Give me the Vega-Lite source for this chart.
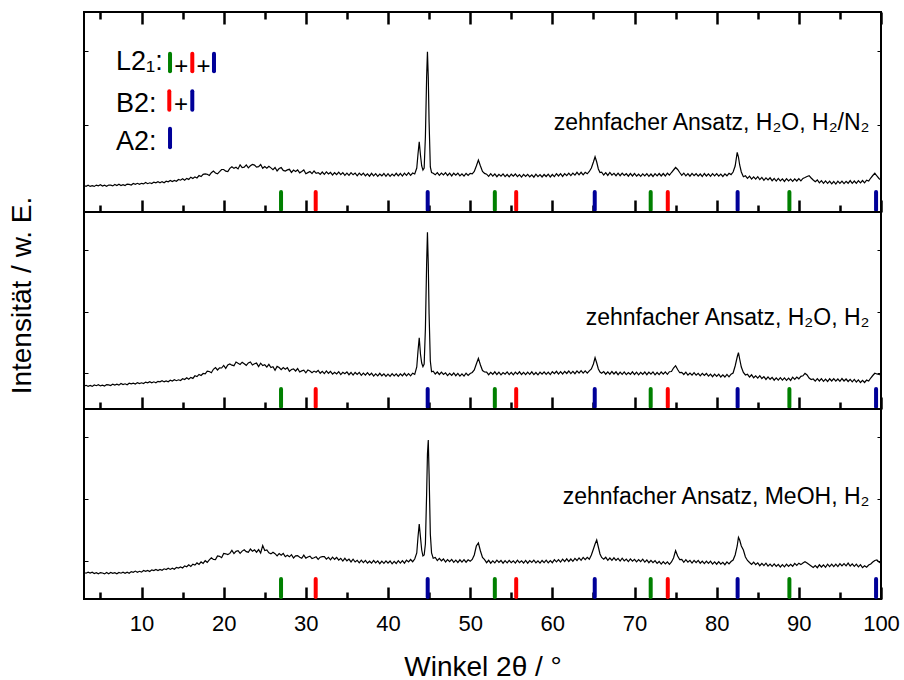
{
"$schema": "https://vega.github.io/schema/vega-lite/v6.json",
"padding": {"left": 7, "top": 9, "right": 0, "bottom": 0},
"spacing": 0,
"bounds": "flush",
"config": {
  "font": "Liberation Sans",
  "view": {"stroke": "#000000", "strokeWidth": 2},
  "axis": {"grid": false, "domain": false, "tickColor": "#000000", "labelColor": "#000000", "titleColor": "#000000", "titleFontWeight": "normal", "labelFont": "Liberation Sans", "titleFont": "Liberation Sans"},
  "text": {"font": "Liberation Sans", "color": "#000000"}
},
"datasets": {
"refs": [
{"pos":26.98,"refl":"L2₁"},{"pos":53.0,"refl":"L2₁"},{"pos":71.97,"refl":"L2₁"},{"pos":88.85,"refl":"L2₁"},
{"pos":31.2,"refl":"B2"},{"pos":55.6,"refl":"B2"},{"pos":74.05,"refl":"B2"},
{"pos":44.83,"refl":"A2"},{"pos":65.16,"refl":"A2"},{"pos":82.55,"refl":"A2"},{"pos":99.4,"refl":"A2"}
],
"xrd": [
{"x":3,"a":26.5,"b":22.7,"c":26.5},{"x":3.25,"a":25.7,"b":23.7,"c":25.8},{"x":3.5,"a":26.8,"b":22.7,"c":26.8},{"x":3.75,"a":25.6,"b":23.5,"c":25.9},
{"x":4,"a":26.4,"b":22.6,"c":26.8},{"x":4.25,"a":25.6,"b":24.1,"c":25.5},{"x":4.5,"a":26.9,"b":23.3,"c":26.3},{"x":4.75,"a":26.2,"b":24.3,"c":25.2},
{"x":5,"a":27.2,"b":23.1,"c":26.4},{"x":5.25,"a":26.0,"b":23.9,"c":26.0},{"x":5.5,"a":26.8,"b":23.0,"c":25.1},{"x":5.75,"a":25.8,"b":24.4,"c":26.5},
{"x":6,"a":27.0,"b":24.1,"c":25.3},{"x":6.25,"a":26.8,"b":23.4,"c":26.5},{"x":6.5,"a":26.1,"b":24.9,"c":25.6},{"x":6.75,"a":27.5,"b":24.0,"c":26.3},
{"x":7,"a":26.5,"b":24.8,"c":25.2},{"x":7.25,"a":27.8,"b":23.9,"c":26.5},{"x":7.5,"a":26.5,"b":25.5,"c":25.8},{"x":7.75,"a":27.4,"b":24.4,"c":26.9},
{"x":8,"a":26.4,"b":25.2,"c":25.8},{"x":8.25,"a":27.9,"b":24.2,"c":26.9},{"x":8.5,"a":27.6,"b":25.8,"c":25.8},{"x":8.75,"a":27.0,"b":25.1,"c":27.4},
{"x":9,"a":28.5,"b":25.9,"c":26.7},{"x":9.25,"a":27.7,"b":24.9,"c":27.9},{"x":9.5,"a":28.7,"b":26.4,"c":26.7},{"x":9.75,"a":27.6,"b":25.5,"c":27.7},
{"x":10,"a":28.7,"b":26.2,"c":26.9},{"x":10.25,"a":28.1,"b":25.4,"c":28.5},{"x":10.5,"a":29.5,"b":26.9,"c":27.6},{"x":10.75,"a":28.3,"b":26.2,"c":28.6},
{"x":11,"a":29.2,"b":27.3,"c":27.5},{"x":11.25,"a":28.4,"b":26.2,"c":29.1},{"x":11.5,"a":29.9,"b":27.2,"c":28.5},{"x":11.75,"a":29.2,"b":26.3,"c":29.6},
{"x":12,"a":30.3,"b":27.7,"c":28.5},{"x":12.25,"a":29.2,"b":27.2,"c":29.6},{"x":12.5,"a":30.4,"b":28.3,"c":28.7},{"x":12.75,"a":29.3,"b":27.1,"c":30.2},
{"x":13,"a":30.8,"b":28.1,"c":29.5},{"x":13.25,"a":30.2,"b":27.3,"c":30.8},{"x":13.5,"a":31.6,"b":28.8,"c":29.6},{"x":13.75,"a":30.4,"b":27.9,"c":30.8},
{"x":14,"a":31.5,"b":29.2,"c":29.8},{"x":14.25,"a":30.8,"b":28.3,"c":31.6},{"x":14.5,"a":32.5,"b":29.2,"c":31.0},{"x":14.75,"a":31.8,"b":28.5,"c":32.0},
{"x":15,"a":33.2,"b":30.3,"c":31.0},{"x":15.25,"a":31.7,"b":29.5,"c":33.1},{"x":15.5,"a":33.6,"b":31.3,"c":32.2},{"x":15.75,"a":32.6,"b":29.7,"c":34.1},
{"x":16,"a":34.8,"b":31.6,"c":32.5},{"x":16.25,"a":33.5,"b":30.6,"c":34.8},{"x":16.5,"a":35.1,"b":33.2,"c":33.9},{"x":16.75,"a":34.0,"b":32.4,"c":36.1},
{"x":17,"a":36.5,"b":34.6,"c":34.6},{"x":17.25,"a":35.4,"b":33.5,"c":37.1},{"x":17.5,"a":37.7,"b":35.5,"c":35.6},{"x":17.75,"a":38.2,"b":35.2,"c":38.3},
{"x":18,"a":37.8,"b":37.9,"c":36.7},{"x":18.25,"a":36.6,"b":37.5,"c":39.2},{"x":18.5,"a":39.3,"b":36.3,"c":41.2},{"x":18.75,"a":41.0,"b":39.7,"c":39.5},
{"x":19,"a":39.0,"b":41.4,"c":39.4},{"x":19.25,"a":38.2,"b":39.0,"c":43.0},{"x":19.5,"a":40.3,"b":41.1,"c":42.7},{"x":19.75,"a":42.5,"b":41.0,"c":41.3},
{"x":20,"a":42.5,"b":43.6,"c":45.5},{"x":20.25,"a":40.8,"b":40.6,"c":45.2},{"x":20.5,"a":40.5,"b":44.1,"c":44.4},{"x":20.75,"a":43.6,"b":45.0,"c":45.6},
{"x":21,"a":45.3,"b":43.8,"c":48.6},{"x":21.25,"a":43.6,"b":43.3,"c":45.4},{"x":21.5,"a":44.7,"b":47.0,"c":47.7},{"x":21.75,"a":43.1,"b":45.7,"c":48.3},
{"x":22,"a":47.2,"b":44.5,"c":45.7},{"x":22.25,"a":44.5,"b":46.8,"c":47.9},{"x":22.5,"a":44.9,"b":45.3,"c":49.2},{"x":22.75,"a":47.1,"b":43.7,"c":47.3},
{"x":23,"a":44.1,"b":46.1,"c":46.8},{"x":23.25,"a":46.2,"b":47.1,"c":50.0},{"x":23.5,"a":47.6,"b":44.0,"c":47.8},{"x":23.75,"a":46.9,"b":45.2,"c":49.1},
{"x":24,"a":44.9,"b":45.9,"c":46.8},{"x":24.25,"a":45.4,"b":42.4,"c":49.4},{"x":24.5,"a":47.5,"b":45.8,"c":46.0},{"x":24.75,"a":43.7,"b":43.4,"c":53.5},
{"x":25,"a":45.5,"b":44.2,"c":48.5},{"x":25.25,"a":43.8,"b":41.9,"c":49.0},{"x":25.5,"a":45.8,"b":44.6,"c":46.1},{"x":25.75,"a":44.1,"b":41.5,"c":45.1},
{"x":26,"a":42.4,"b":42.3,"c":46.8},{"x":26.25,"a":44.5,"b":38.7,"c":45.3},{"x":26.5,"a":41.0,"b":42.6,"c":43.2},{"x":26.75,"a":43.5,"b":41.5,"c":45.4},
{"x":27,"a":44.4,"b":39.3,"c":43.7},{"x":27.25,"a":41.6,"b":41.4,"c":45.6},{"x":27.5,"a":41.0,"b":39.8,"c":42.3},{"x":27.75,"a":42.1,"b":41.4,"c":43.7},
{"x":28,"a":42.7,"b":37.6,"c":42.2},{"x":28.25,"a":39.6,"b":39.5,"c":44.3},{"x":28.5,"a":41.9,"b":40.1,"c":41.0},{"x":28.75,"a":40.6,"b":38.0,"c":43.1},
{"x":29,"a":42.1,"b":40.5,"c":43.4},{"x":29.25,"a":39.2,"b":37.0,"c":41.7},{"x":29.5,"a":40.6,"b":38.1,"c":40.7},{"x":29.75,"a":42.1,"b":38.8,"c":43.9},
{"x":30,"a":38.3,"b":36.2,"c":40.9},{"x":30.25,"a":39.4,"b":39.0,"c":42.0},{"x":30.5,"a":40.5,"b":38.0,"c":42.8},{"x":30.75,"a":38.4,"b":36.3,"c":40.4},
{"x":31,"a":41.0,"b":37.9,"c":41.2},{"x":31.25,"a":38.7,"b":36.7,"c":42.2},{"x":31.5,"a":39.4,"b":38.6,"c":39.7},{"x":31.75,"a":37.7,"b":35.7,"c":41.8},
{"x":32,"a":40.0,"b":37.7,"c":42.3},{"x":32.25,"a":37.7,"b":35.4,"c":42.3},{"x":32.5,"a":40.2,"b":38.1,"c":39.9},{"x":32.75,"a":38.1,"b":35.7,"c":41.6},
{"x":33,"a":39.6,"b":37.6,"c":39.2},{"x":33.25,"a":37.0,"b":34.9,"c":41.8},{"x":33.5,"a":39.3,"b":36.8,"c":39.7},{"x":33.75,"a":37.3,"b":35.1,"c":41.7},
{"x":34,"a":39.8,"b":37.4,"c":38.8},{"x":34.25,"a":37.3,"b":34.4,"c":40.7},{"x":34.5,"a":39.4,"b":36.7,"c":38.0},{"x":34.75,"a":36.7,"b":35.2,"c":40.7},
{"x":35,"a":38.9,"b":37.2,"c":38.2},{"x":35.25,"a":36.7,"b":34.3,"c":39.9},{"x":35.5,"a":39.4,"b":36.5,"c":37.1},{"x":35.75,"a":37.2,"b":33.9,"c":39.8},
{"x":36,"a":38.9,"b":36.5,"c":37.0},{"x":36.25,"a":36.2,"b":34.5,"c":38.6},{"x":36.5,"a":38.9,"b":36.6,"c":36.2},{"x":36.75,"a":36.8,"b":33.7,"c":38.8},
{"x":37,"a":38.9,"b":35.9,"c":36.4},{"x":37.25,"a":36.2,"b":33.8,"c":38.6},{"x":37.5,"a":38.1,"b":36.3,"c":35.8},{"x":37.75,"a":35.8,"b":33.8,"c":37.8},
{"x":38,"a":38.7,"b":35.8,"c":35.8},{"x":38.25,"a":36.2,"b":32.9,"c":38.5},{"x":38.5,"a":38.3,"b":35.1,"c":36.1},{"x":38.75,"a":35.7,"b":33.1,"c":38.1},
{"x":39,"a":38.0,"b":35.7,"c":35.3},{"x":39.25,"a":36.2,"b":33.2,"c":37.8},{"x":39.5,"a":38.5,"b":35.2,"c":35.7},{"x":39.75,"a":35.7,"b":32.6,"c":38.2},
{"x":40,"a":38.3,"b":34.8,"c":35.9},{"x":40.25,"a":35.6,"b":32.7,"c":38.0},{"x":40.5,"a":38.0,"b":35.4,"c":35.2},{"x":40.75,"a":36.1,"b":33.1,"c":37.6},
{"x":41,"a":38.7,"b":35.2,"c":35.5},{"x":41.25,"a":36.1,"b":32.6,"c":38.3},{"x":41.5,"a":38.5,"b":35.1,"c":35.9},{"x":41.75,"a":35.9,"b":33.2,"c":38.3},
{"x":42,"a":38.8,"b":35.7,"c":35.8},{"x":42.25,"a":36.7,"b":33.1,"c":38.9},{"x":42.5,"a":39.3,"b":35.3,"c":37.0},{"x":42.75,"a":36.7,"b":33.2,"c":39.5},
{"x":43,"a":39.0,"b":35.8,"c":37.3},{"x":43.25,"a":38.0,"b":34.7,"c":40.0},{"x":43.5,"a":44,"b":42,"c":46},{"x":43.65,"a":58,"b":58,"c":62},
{"x":43.8,"a":70.3,"b":71.3,"c":75},{"x":43.95,"a":57,"b":55,"c":62},{"x":44.1,"a":46,"b":46,"c":49},{"x":44.25,"a":42,"b":42.3,"c":43},
{"x":44.4,"a":44,"b":45,"c":44},{"x":44.55,"a":75,"b":80,"c":55},{"x":44.7,"a":135,"b":145,"c":105},{"x":44.8,"a":160.3,"b":176.7,"c":145},
{"x":44.9,"a":135,"b":145,"c":159},{"x":45,"a":90,"b":95,"c":125},{"x":45.15,"a":45,"b":48,"c":65},{"x":45.3,"a":39.5,"b":37.3,"c":46},
{"x":45.5,"a":38.7,"b":37.8,"c":40.7},{"x":45.75,"a":37.2,"b":35.0,"c":41.5},
{"x":46,"a":39.4,"b":37.0,"c":38.4},{"x":46.25,"a":36.7,"b":34.5,"c":40.7},{"x":46.5,"a":39.0,"b":36.9,"c":38.2},{"x":46.75,"a":37.1,"b":34.5,"c":40.0},
{"x":47,"a":39.3,"b":36.2,"c":37.0},{"x":47.25,"a":36.5,"b":33.4,"c":39.4},{"x":47.5,"a":38.8,"b":35.6,"c":37.4},{"x":47.75,"a":36.1,"b":33.6,"c":39.6},
{"x":48,"a":38.8,"b":36.0,"c":36.7},{"x":48.25,"a":36.8,"b":33.3,"c":38.8},{"x":48.5,"a":38.9,"b":35.6,"c":36.5},{"x":48.75,"a":36.1,"b":32.9,"c":39.2},
{"x":49,"a":38.2,"b":35.1,"c":36.9},{"x":49.25,"a":35.9,"b":32.9,"c":39.3},{"x":49.5,"a":38.6,"b":35.8,"c":36.8},{"x":49.75,"a":36.5,"b":33.6,"c":39.2},
{"x":50,"a":38.6,"b":35.5,"c":37.7},{"x":50.25,"a":38.2,"b":36.5,"c":39.5},{"x":50.5,"a":40.5,"b":39,"c":44},{"x":50.75,"a":46,"b":45,"c":53},
{"x":51,"a":52,"b":50.7,"c":56},{"x":51.25,"a":46,"b":44,"c":48},{"x":51.5,"a":40.5,"b":38.5,"c":41.5},{"x":51.75,"a":38.6,"b":37.0,"c":39.4},
{"x":52,"a":37.8,"b":36.9,"c":36.3},{"x":52.25,"a":35.6,"b":34.3,"c":38.7},{"x":52.5,"a":38.3,"b":36.6,"c":35.8},{"x":52.75,"a":35.9,"b":34.7,"c":38.1},
{"x":53,"a":38.0,"b":37.2,"c":36.1},{"x":53.25,"a":35.3,"b":34.5,"c":38.8},{"x":53.5,"a":37.7,"b":36.8,"c":36.5},{"x":53.75,"a":35.9,"b":34.2,"c":38.5},
{"x":54,"a":38.1,"b":36.5,"c":35.8},{"x":54.25,"a":35.4,"b":34.8,"c":38.3},{"x":54.5,"a":37.5,"b":37.1,"c":36.2},{"x":54.75,"a":35.1,"b":34.4,"c":38.7},
{"x":55,"a":37.8,"b":36.7,"c":36.4},{"x":55.25,"a":35.8,"b":34.2,"c":38.2},{"x":55.5,"a":38.0,"b":36.9,"c":35.9},{"x":55.75,"a":35.3,"b":34.9,"c":38.8},
{"x":56,"a":37.4,"b":37.2,"c":36.3},{"x":56.25,"a":34.9,"b":34.5,"c":38.1},{"x":56.5,"a":37.6,"b":36.6,"c":36.0},{"x":56.75,"a":35.5,"b":34.3,"c":38.6},
{"x":57,"a":37.7,"b":36.8,"c":35.8},{"x":57.25,"a":35.2,"b":34.7,"c":38.4},{"x":57.5,"a":37.1,"b":37.2,"c":36.5},{"x":57.75,"a":34.8,"b":34.4,"c":38.8},
{"x":58,"a":37.8,"b":36.5,"c":36.1},{"x":58.25,"a":35.3,"b":34.2,"c":38.2},{"x":58.5,"a":37.4,"b":36.9,"c":35.9},{"x":58.75,"a":35.0,"b":34.8,"c":38.5},
{"x":59,"a":37.5,"b":37.1,"c":36.3},{"x":59.25,"a":35.5,"b":34.6,"c":38.8},{"x":59.5,"a":37.9,"b":36.8,"c":36.1},{"x":59.75,"a":35.0,"b":34.4,"c":38.4},
{"x":60,"a":37.5,"b":37.3,"c":36.3},{"x":60.25,"a":35.4,"b":35.3,"c":39.3},{"x":60.5,"a":38.3,"b":37.7,"c":37.2},{"x":60.75,"a":36.0,"b":34.9,"c":39.4},
{"x":61,"a":38.3,"b":37.3,"c":36.9},{"x":61.25,"a":35.6,"b":35.0,"c":39.8},{"x":61.5,"a":38.4,"b":37.6,"c":37.5},{"x":61.75,"a":36.4,"b":35.5,"c":40.2},
{"x":62,"a":38.9,"b":38.0,"c":37.5},{"x":62.25,"a":36.4,"b":35.4,"c":40.0},{"x":62.5,"a":38.9,"b":37.6,"c":37.7},{"x":62.75,"a":36.9,"b":35.3,"c":40.6},
{"x":63,"a":39.7,"b":38.1,"c":38.5},{"x":63.25,"a":37.1,"b":35.9,"c":41.1},{"x":63.5,"a":39.7,"b":38.4,"c":38.7},{"x":63.75,"a":37.1,"b":35.9,"c":41.6},
{"x":64,"a":39.7,"b":38.2,"c":39.3},{"x":64.25,"a":38.2,"b":35.9,"c":41.7},{"x":64.5,"a":40.5,"b":38.1,"c":39.8},{"x":64.75,"a":44,"b":40,"c":44},
{"x":65,"a":50,"b":45,"c":50},{"x":65.2,"a":55.3,"b":51.3,"c":55},{"x":65.4,"a":50,"b":46,"c":59},{"x":65.6,"a":43,"b":40,"c":52},
{"x":65.8,"a":39.5,"b":37.0,"c":45},{"x":66,"a":39.8,"b":35.8,"c":41.5},{"x":66.25,"a":37.0,"b":37.4,"c":39.7},{"x":66.5,"a":39.4,"b":34.8,"c":41.7},
{"x":66.75,"a":36.6,"b":37.1,"c":38.7},{"x":67,"a":39.5,"b":34.8,"c":41.0},{"x":67.25,"a":36.9,"b":37.5,"c":38.7},{"x":67.5,"a":38.7,"b":35.0,"c":41.2},
{"x":67.75,"a":36.3,"b":37.2,"c":38.7},{"x":68,"a":38.8,"b":34.3,"c":40.7},{"x":68.25,"a":36.3,"b":36.8,"c":38.0},{"x":68.5,"a":38.9,"b":34.7,"c":40.8},
{"x":68.75,"a":36.6,"b":37.1,"c":38.1},{"x":69,"a":38.3,"b":34.4,"c":39.9},{"x":69.25,"a":35.8,"b":36.5,"c":37.4},{"x":69.5,"a":38.5,"b":34.7,"c":40.1},
{"x":69.75,"a":36.0,"b":37.2,"c":37.8},{"x":70,"a":38.5,"b":34.5,"c":39.7},{"x":70.25,"a":35.8,"b":36.8,"c":37.1},{"x":70.5,"a":37.8,"b":34.2,"c":39.4},
{"x":70.75,"a":35.6,"b":36.6,"c":37.3},{"x":71,"a":38.2,"b":34.7,"c":39.8},{"x":71.25,"a":36.1,"b":37.0,"c":36.9},{"x":71.5,"a":38.4,"b":34.3,"c":39.0},
{"x":71.75,"a":35.7,"b":36.9,"c":36.3},{"x":72,"a":38.0,"b":34.8,"c":38.7},{"x":72.25,"a":35.5,"b":37.1,"c":36.3},{"x":72.5,"a":38.3,"b":34.2,"c":38.4},
{"x":72.75,"a":36.2,"b":36.5,"c":35.6},{"x":73,"a":38.5,"b":34.4,"c":37.5},{"x":73.25,"a":36.0,"b":37.0,"c":34.9},{"x":73.5,"a":38.5,"b":34.9,"c":37.4},
{"x":73.75,"a":36.0,"b":37.1,"c":35.1},{"x":74,"a":38.8,"b":34.7,"c":37.2},{"x":74.25,"a":36.8,"b":37.3,"c":34.6},{"x":74.5,"a":39.5,"b":37.5,"c":37.0},
{"x":74.75,"a":42,"b":41,"c":41},{"x":75,"a":44.5,"b":43.3,"c":48.3},{"x":75.25,"a":42.5,"b":39.5,"c":43},{"x":75.5,"a":39.5,"b":36.3,"c":39.5},
{"x":75.75,"a":36.7,"b":36.7,"c":39.7},{"x":76,"a":38.8,"b":34.5,"c":36.7},{"x":76.25,"a":36.2,"b":36.8,"c":39.3},{"x":76.5,"a":38.4,"b":33.9,"c":36.8},
{"x":76.75,"a":35.8,"b":36.0,"c":38.6},{"x":77,"a":38.6,"b":33.8,"c":36.0},{"x":77.25,"a":36.3,"b":36.4,"c":38.6},{"x":77.5,"a":38.3,"b":33.8,"c":36.4},
{"x":77.75,"a":35.8,"b":35.7,"c":38.6},{"x":78,"a":38.0,"b":33.1,"c":35.8},{"x":78.25,"a":35.5,"b":35.7,"c":37.9},{"x":78.5,"a":38.5,"b":33.5,"c":35.4},
{"x":78.75,"a":36.0,"b":35.5,"c":37.9},{"x":79,"a":38.1,"b":32.8,"c":35.7},{"x":79.25,"a":35.6,"b":34.9,"c":37.9},{"x":79.5,"a":38.3,"b":32.3,"c":34.9},
{"x":79.75,"a":36.2,"b":34.8,"c":37.1},{"x":80,"a":38.4,"b":32.6,"c":34.8},{"x":80.25,"a":35.8,"b":34.8,"c":37.4},{"x":80.5,"a":37.9,"b":32.0,"c":34.8},
{"x":80.75,"a":35.5,"b":34.2,"c":36.7},{"x":81,"a":38.2,"b":32.0,"c":34.3},{"x":81.25,"a":36.2,"b":34.6,"c":37.1},{"x":81.5,"a":38.7,"b":32.1,"c":35.1},
{"x":81.75,"a":37.4,"b":34.8,"c":37.5},{"x":82,"a":40,"b":36,"c":39},{"x":82.25,"a":46,"b":43,"c":44},{"x":82.5,"a":59.7,"b":52,"c":53},
{"x":82.65,"a":55,"b":56.3,"c":61.7},{"x":82.8,"a":47,"b":50,"c":59},{"x":83,"a":40,"b":42,"c":53},{"x":83.25,"a":35.3,"b":36.5,"c":49},
{"x":83.5,"a":36.2,"b":34.0,"c":42},{"x":83.75,"a":33.6,"b":34.7,"c":38.5},
{"x":84,"a":35.8,"b":32.0,"c":36.5},{"x":84.25,"a":32.9,"b":34.2,"c":34.6},{"x":84.5,"a":35.2,"b":31.2,"c":36.9},{"x":84.75,"a":32.9,"b":33.1,"c":34.3},
{"x":85,"a":35.3,"b":30.8,"c":36.2},{"x":85.25,"a":32.4,"b":33.3,"c":33.3},{"x":85.5,"a":34.6,"b":30.5,"c":35.7},{"x":85.75,"a":31.7,"b":32.4,"c":33.4},
{"x":86,"a":34.1,"b":29.6,"c":35.8},{"x":86.25,"a":32.0,"b":32.1,"c":32.9},{"x":86.5,"a":34.2,"b":29.7,"c":34.9},{"x":86.75,"a":31.3,"b":31.7,"c":32.7},
{"x":87,"a":33.5,"b":28.8,"c":35.1},{"x":87.25,"a":30.9,"b":31.2,"c":32.6},{"x":87.5,"a":33.6,"b":28.9,"c":34.7},{"x":87.75,"a":31.1,"b":31.3,"c":32.0},
{"x":88,"a":33.2,"b":28.9,"c":34.3},{"x":88.25,"a":30.6,"b":31.1,"c":32.1},{"x":88.5,"a":33.4,"b":28.7,"c":34.9},{"x":88.75,"a":31.1,"b":30.9,"c":32.6},
{"x":89,"a":32.9,"b":28.6,"c":34.6},{"x":89.25,"a":30.6,"b":31.8,"c":32.7},{"x":89.5,"a":33.1,"b":29.6,"c":35.6},{"x":89.75,"a":31.0,"b":32.0,"c":33.6},
{"x":90,"a":33.4,"b":30.2,"c":35.8},{"x":90.25,"a":31.2,"b":32.6,"c":34.4},{"x":90.5,"a":33.6,"b":33.2,"c":36.0},{"x":90.75,"a":34.5,"b":35.7,"c":37.3},
{"x":91,"a":35.5,"b":34.0,"c":36.0},{"x":91.25,"a":36.3,"b":31.0,"c":34.5},{"x":91.5,"a":34.0,"b":29.5,"c":33.0},{"x":91.75,"a":32.0,"b":30.0,"c":31.5},
{"x":92,"a":30.2,"b":27.8,"c":33.5},{"x":92.25,"a":32.0,"b":30.3,"c":31.3},{"x":92.5,"a":29.2,"b":28.0,"c":34.2},{"x":92.75,"a":31.3,"b":30.4,"c":32.0},
{"x":93,"a":28.6,"b":27.7,"c":34.2},{"x":93.25,"a":31.1,"b":29.9,"c":31.7},{"x":93.5,"a":28.6,"b":27.5,"c":34.8},{"x":93.75,"a":30.9,"b":30.2,"c":32.4},
{"x":94,"a":28.1,"b":28.0,"c":34.8},{"x":94.25,"a":30.5,"b":30.4,"c":32.4},{"x":94.5,"a":27.9,"b":27.8,"c":34.8},{"x":94.75,"a":30.9,"b":30.0,"c":32.4},
{"x":95,"a":28.6,"b":27.6,"c":35.4},{"x":95.25,"a":30.8,"b":30.5,"c":33.1},{"x":95.5,"a":28.4,"b":28.0,"c":35.4},{"x":95.75,"a":30.7,"b":30.0,"c":33.2},
{"x":96,"a":28.7,"b":27.5,"c":35.9},{"x":96.25,"a":31.4,"b":29.6,"c":33.0},{"x":96.5,"a":28.7,"b":27.2,"c":35.1},{"x":96.75,"a":31.0,"b":29.6,"c":32.6},
{"x":97,"a":28.6,"b":27.0,"c":34.8},{"x":97.25,"a":31.4,"b":29.1,"c":32.2},{"x":97.5,"a":29.2,"b":26.5,"c":34.3},{"x":97.75,"a":31.5,"b":28.7,"c":31.4},
{"x":98,"a":29.1,"b":26.5,"c":33.3},{"x":98.25,"a":31.8,"b":28.9,"c":31.8},{"x":98.5,"a":31.0,"b":28.0,"c":34.0},{"x":98.75,"a":34.0,"b":31.0,"c":35.0},
{"x":99,"a":36.5,"b":33.5,"c":37.0},{"x":99.25,"a":38.7,"b":35.7,"c":38.5},{"x":99.5,"a":36.0,"b":35.0,"c":39.0},{"x":99.75,"a":33.5,"b":34.5,"c":37.0},
{"x":100,"a":32.0,"b":34.0,"c":35.7}
]
},
"vconcat": [
{
  "width": 797, "height": 200,
  "resolve": {"axis": {"x": "independent", "y": "independent"}},
  "layer": [
    {
      "data": {"name": "xrd"},
      "mark": {"type": "line", "color": "#000000", "strokeWidth": 1.2},
      "encoding": {
        "x": {"field": "x", "type": "quantitative", "scale": {"domain": [3, 100], "nice": false, "zero": false},
              "axis": {"orient": "bottom", "values": [5,10,15,20,25,30,35,40,45,50,55,60,65,70,75,80,85,90,95,100], "tickSize": {"condition": {"test": "datum.value % 10 === 0", "value": -12}, "value": -7}, "tickWidth": 2.5, "labels": false, "title": null}},
        "y": {"field": "a", "type": "quantitative", "scale": {"domain": [0, 200], "nice": false, "zero": false},
              "axis": {"orient": "left", "values": [87, 161], "tickSize": -4, "tickWidth": 1, "labels": false, "title": null}}
      }
    },
    {
      "data": {"name": "refs"},
      "mark": {"type": "rule", "strokeWidth": 4, "strokeCap": "round"},
      "encoding": {
        "x": {"field": "pos", "type": "quantitative",
              "axis": {"orient": "top", "values": [5,10,15,20,25,30,35,40,45,50,55,60,65,70,75,80,85,90,95,100], "tickSize": {"condition": {"test": "datum.value % 10 === 0", "value": -12}, "value": -7}, "tickWidth": 2.5, "labels": false, "title": null}},
        "y": {"datum": 2, "type": "quantitative", "axis": {"orient": "right", "values": [87, 161], "tickSize": -4, "tickWidth": 1, "labels": false, "title": null}},
        "y2": {"datum": 20},
        "color": {"field": "refl", "type": "nominal", "scale": {"domain": ["L2₁", "B2", "A2"], "range": ["#008000", "#ff0000", "#000099"]}, "legend": null}
      }
    },
    {
      "data": {"values": [{}]},
      "layer": [
        {"mark": {"type": "text", "align": "right", "baseline": "alphabetic", "fontSize": 23},
         "encoding": {"x": {"datum": 98.6, "type": "quantitative", "axis": null}, "y": {"datum": 82, "type": "quantitative", "axis": null}, "text": {"value": "zehnfacher Ansatz, H₂O, H₂/N₂"}}},
        {"mark": {"type": "text", "align": "left", "baseline": "alphabetic", "fontSize": 27},
         "encoding": {"x": {"datum": 6.9, "type": "quantitative", "axis": null}, "y": {"datum": 142, "type": "quantitative", "axis": null}, "text": {"value": "L2₁:"}}},
        {"mark": {"type": "text", "align": "left", "baseline": "alphabetic", "fontSize": 27},
         "encoding": {"x": {"datum": 6.9, "type": "quantitative", "axis": null}, "y": {"datum": 100.3, "type": "quantitative", "axis": null}, "text": {"value": "B2:"}}},
        {"mark": {"type": "text", "align": "left", "baseline": "alphabetic", "fontSize": 27},
         "encoding": {"x": {"datum": 6.9, "type": "quantitative", "axis": null}, "y": {"datum": 62, "type": "quantitative", "axis": null}, "text": {"value": "A2:"}}},
        {"mark": {"type": "text", "align": "center", "baseline": "alphabetic", "fontSize": 24},
         "encoding": {"x": {"datum": 14.85, "type": "quantitative", "axis": null}, "y": {"datum": 138, "type": "quantitative", "axis": null}, "text": {"value": "+"}}},
        {"mark": {"type": "text", "align": "center", "baseline": "alphabetic", "fontSize": 24},
         "encoding": {"x": {"datum": 17.55, "type": "quantitative", "axis": null}, "y": {"datum": 138, "type": "quantitative", "axis": null}, "text": {"value": "+"}}},
        {"mark": {"type": "text", "align": "center", "baseline": "alphabetic", "fontSize": 24},
         "encoding": {"x": {"datum": 14.8, "type": "quantitative", "axis": null}, "y": {"datum": 100, "type": "quantitative", "axis": null}, "text": {"value": "+"}}},
        {"mark": {"type": "rule", "strokeWidth": 4, "strokeCap": "round", "color": "#008000"},
         "encoding": {"x": {"datum": 13.47, "type": "quantitative", "axis": null}, "y": {"datum": 140.7, "type": "quantitative", "axis": null}, "y2": {"datum": 158.3}}},
        {"mark": {"type": "rule", "strokeWidth": 4, "strokeCap": "round", "color": "#ff0000"},
         "encoding": {"x": {"datum": 16.18, "type": "quantitative", "axis": null}, "y": {"datum": 140.7, "type": "quantitative", "axis": null}, "y2": {"datum": 158.3}}},
        {"mark": {"type": "rule", "strokeWidth": 4, "strokeCap": "round", "color": "#000099"},
         "encoding": {"x": {"datum": 18.82, "type": "quantitative", "axis": null}, "y": {"datum": 140.7, "type": "quantitative", "axis": null}, "y2": {"datum": 158.3}}},
        {"mark": {"type": "rule", "strokeWidth": 4, "strokeCap": "round", "color": "#ff0000"},
         "encoding": {"x": {"datum": 13.38, "type": "quantitative", "axis": null}, "y": {"datum": 102.3, "type": "quantitative", "axis": null}, "y2": {"datum": 120.7}}},
        {"mark": {"type": "rule", "strokeWidth": 4, "strokeCap": "round", "color": "#000099"},
         "encoding": {"x": {"datum": 16.18, "type": "quantitative", "axis": null}, "y": {"datum": 102.3, "type": "quantitative", "axis": null}, "y2": {"datum": 120.7}}},
        {"mark": {"type": "rule", "strokeWidth": 4, "strokeCap": "round", "color": "#000099"},
         "encoding": {"x": {"datum": 13.47, "type": "quantitative", "axis": null}, "y": {"datum": 64.7, "type": "quantitative", "axis": null}, "y2": {"datum": 83.3}}}
      ]
    }
  ]
},
{
  "width": 797, "height": 197,
  "resolve": {"axis": {"x": "independent", "y": "independent"}},
  "layer": [
    {
      "data": {"name": "xrd"},
      "mark": {"type": "line", "color": "#000000", "strokeWidth": 1.2},
      "encoding": {
        "x": {"field": "x", "type": "quantitative", "scale": {"domain": [3, 100], "nice": false, "zero": false},
              "axis": {"orient": "bottom", "values": [5,10,15,20,25,30,35,40,45,50,55,60,65,70,75,80,85,90,95,100], "tickSize": {"condition": {"test": "datum.value % 10 === 0", "value": -12}, "value": -7}, "tickWidth": 2.5, "labels": false, "title": null}},
        "y": {"field": "b", "type": "quantitative", "scale": {"domain": [0, 197], "nice": false, "zero": false},
              "axis": {"orient": "left", "values": [36, 97, 159], "tickSize": -4, "tickWidth": 1, "labels": false, "title": "Intensität / w. E.", "titleFontSize": 28, "titlePadding": 47, "titleY": 83}}
      }
    },
    {
      "data": {"name": "refs"},
      "mark": {"type": "rule", "strokeWidth": 4, "strokeCap": "round"},
      "encoding": {
        "x": {"field": "pos", "type": "quantitative", "axis": null},
        "y": {"datum": 2, "type": "quantitative", "axis": {"orient": "right", "values": [36, 97, 159], "tickSize": -4, "tickWidth": 1, "labels": false, "title": null}},
        "y2": {"datum": 20},
        "color": {"field": "refl", "type": "nominal", "scale": {"domain": ["L2₁", "B2", "A2"], "range": ["#008000", "#ff0000", "#000099"]}, "legend": null}
      }
    },
    {
      "data": {"values": [{}]},
      "mark": {"type": "text", "align": "right", "baseline": "alphabetic", "fontSize": 23},
      "encoding": {"x": {"datum": 98.6, "type": "quantitative", "axis": null}, "y": {"datum": 84, "type": "quantitative", "axis": null}, "text": {"value": "zehnfacher Ansatz, H₂O, H₂"}}
    }
  ]
},
{
  "width": 797, "height": 190,
  "resolve": {"axis": {"x": "independent", "y": "independent"}},
  "layer": [
    {
      "data": {"name": "xrd"},
      "mark": {"type": "line", "color": "#000000", "strokeWidth": 1.2},
      "encoding": {
        "x": {"field": "x", "type": "quantitative", "scale": {"domain": [3, 100], "nice": false, "zero": false},
              "axis": {"orient": "bottom", "values": [5,10,15,20,25,30,35,40,45,50,55,60,65,70,75,80,85,90,95,100], "tickSize": {"condition": {"test": "datum.value % 10 === 0", "value": -12}, "value": -7}, "tickWidth": 2.5, "format": "d", "labelExpr": "datum.value % 10 === 0 ? datum.label : ''", "labelFontSize": 22, "labelPadding": 26, "labelFlush": false, "labelOverlap": false, "labelBound": false, "title": "Winkel 2θ / °", "titleFontSize": 28, "titlePadding": 14}},
        "y": {"field": "c", "type": "quantitative", "scale": {"domain": [0, 190], "nice": false, "zero": false},
              "axis": {"orient": "left", "values": [38, 100, 162], "tickSize": -4, "tickWidth": 1, "labels": false, "title": null}}
      }
    },
    {
      "data": {"name": "refs"},
      "mark": {"type": "rule", "strokeWidth": 4, "strokeCap": "round"},
      "encoding": {
        "x": {"field": "pos", "type": "quantitative", "axis": null},
        "y": {"datum": 2, "type": "quantitative", "axis": {"orient": "right", "values": [38, 100, 162], "tickSize": -4, "tickWidth": 1, "labels": false, "title": null}},
        "y2": {"datum": 20},
        "color": {"field": "refl", "type": "nominal", "scale": {"domain": ["L2₁", "B2", "A2"], "range": ["#008000", "#ff0000", "#000099"]}, "legend": null}
      }
    },
    {
      "data": {"values": [{}]},
      "mark": {"type": "text", "align": "right", "baseline": "alphabetic", "fontSize": 23},
      "encoding": {"x": {"datum": 98.6, "type": "quantitative", "axis": null}, "y": {"datum": 95, "type": "quantitative", "axis": null}, "text": {"value": "zehnfacher Ansatz, MeOH, H₂"}}
    }
  ]
}
]
}
